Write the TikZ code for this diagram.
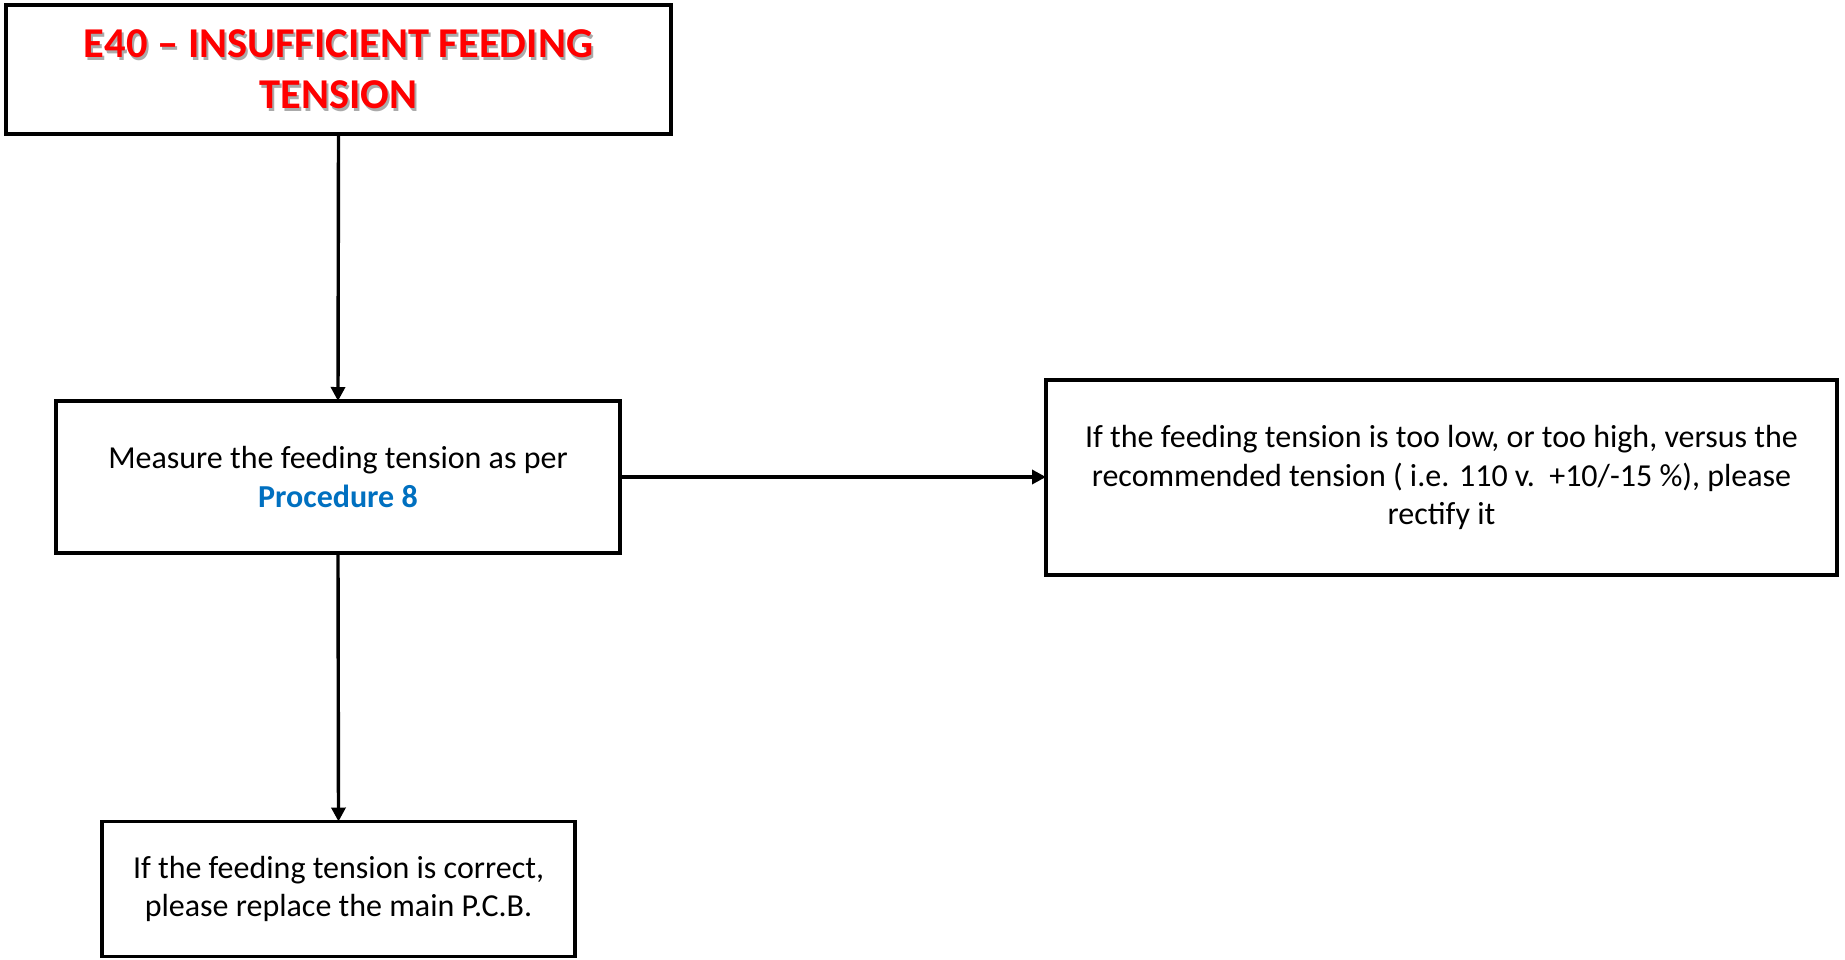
\documentclass[tikz,border=0pt]{standalone}
\usepackage{fontspec}
\setmainfont{Carlito}
\usetikzlibrary{arrows.meta}
\definecolor{titlered}{RGB}{255,0,0}
\definecolor{procblue}{RGB}{0,112,192}
\definecolor{shadowgray}{RGB}{170,170,170}
\begin{document}
\begin{tikzpicture}[x=1pt,y=-1pt,
  box/.style={draw=black,line width=3.2pt,rectangle,inner sep=0pt,outer sep=0pt,align=center,
    font=\fontsize{32}{38.5}\selectfont},
  conn/.style={line width=3.4pt,-{Triangle[length=14pt,width=14pt]}},
  titletext/.style={align=center,inner sep=0pt,font=\fontsize{42.5}{51}\selectfont\bfseries}]
\useasboundingbox[fill=white] (0,0) rectangle (1845,959);
% title box
\node[box,minimum width=665pt,minimum height=129pt] (title) at (338.5,69.5) {};
\node[titletext,text=shadowgray] (titleshadow) at (340.5,72.5) {E40 -- INSUFFICIENT FEEDING\\TENSION};
\node[titletext,text=titlered] (titletxt) at (338.5,69.5) {E40 -- INSUFFICIENT FEEDING\\TENSION};
% measure box
\node[box,minimum width=564pt,minimum height=152pt] (measure) at (338,477) {Measure the feeding tension as per\\{\color{procblue}\bfseries Procedure 8}};
% right box
\node[box,minimum width=791pt,minimum height=195pt] (right) at (1441.5,477.5) {If the feeding tension is too low, or too high, versus the\\recommended tension ( i.e. 110 v.~~+10/-15 \%), please\\rectify it};
% bottom box
\node[box,minimum width=473pt,minimum height=135pt] (bottom) at (338.5,889) {If the feeding tension is correct,\\please replace the main P.C.B.};
% connectors
\draw[conn] (title.south) -- (measure.north);
\draw[conn] (measure.east) -- (measure.east -| right.west);
\draw[conn] (measure.south) -- (bottom.north);
\end{tikzpicture}
\end{document}
